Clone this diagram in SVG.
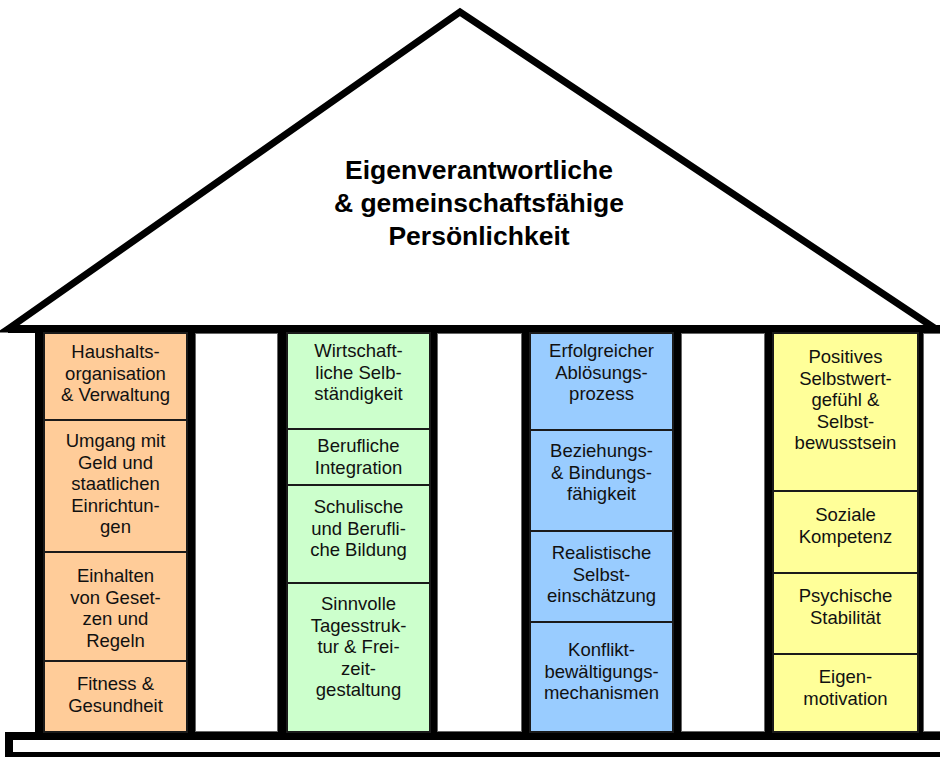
<svg xmlns="http://www.w3.org/2000/svg" width="940" height="757" viewBox="0 0 940 757">
<style>
.t{font-family:"Liberation Sans",Arial,sans-serif;font-size:18.5px;fill:#111;text-anchor:middle}
.title{font-family:"Liberation Sans",Arial,sans-serif;font-size:26.5px;font-weight:bold;fill:#000;text-anchor:middle}
.c1{fill:#FFCC99;stroke:#1a1a1a;stroke-width:2}
.c2{fill:#CCFFCC;stroke:#1a1a1a;stroke-width:2}
.c3{fill:#99CCFF;stroke:#1a1a1a;stroke-width:2}
.c4{fill:#FFFF99;stroke:#1a1a1a;stroke-width:2}
.gap{fill:#fff;stroke:#666;stroke-width:1}
</style>
<rect width="940" height="757" fill="#fff"/>
<g id="roof">
<path d="M8,329 L460,12 L936,329 Z" fill="#fff" stroke="#000" stroke-width="7" stroke-linejoin="miter"/>
<rect x="8" y="325" width="932" height="8" fill="#000"/>
<text class="title" x="479" y="179">Eigenverantwortliche</text>
<text class="title" x="479" y="212">&amp; gemeinschaftsfähige</text>
<text class="title" x="479" y="245">Persönlichkeit</text>
</g>
<g id="frame">
<rect x="35" y="325" width="888" height="415" fill="#000"/>
<rect class="gap" x="195.5" y="333.5" width="82" height="398"/>
<rect class="gap" x="437.5" y="333.5" width="84" height="398"/>
<rect class="gap" x="681.5" y="333.5" width="83" height="398"/>
<rect class="gap" x="923.5" y="333.5" width="20" height="398"/>
</g>
<g id="base">
<rect x="5" y="732" width="940" height="25" fill="#000"/>
<rect x="13" y="740" width="932" height="12" fill="#fff"/>
</g>
<g id="connectors"></g>
<g id="haushalt"><rect class="c1" x="44" y="333" width="143" height="87"/><text class="t" x="115.5" y="358"><tspan x="115.5">Haushalts-</tspan><tspan x="115.5" dy="21.5">organisation</tspan><tspan x="115.5" dy="21.5">&amp; Verwaltung</tspan></text></g>
<g id="geld"><rect class="c1" x="44" y="420" width="143" height="132"/><text class="t" x="115.5" y="447"><tspan x="115.5">Umgang mit</tspan><tspan x="115.5" dy="21.5">Geld und</tspan><tspan x="115.5" dy="21.5">staatlichen</tspan><tspan x="115.5" dy="21.5">Einrichtun-</tspan><tspan x="115.5" dy="21.5">gen</tspan></text></g>
<g id="gesetze"><rect class="c1" x="44" y="552" width="143" height="109"/><text class="t" x="115.5" y="582"><tspan x="115.5">Einhalten</tspan><tspan x="115.5" dy="21.5">von Geset-</tspan><tspan x="115.5" dy="21.5">zen und</tspan><tspan x="115.5" dy="21.5">Regeln</tspan></text></g>
<g id="fitness"><rect class="c1" x="44" y="661" width="143" height="71"/><text class="t" x="115.5" y="690"><tspan x="115.5">Fitness &amp;</tspan><tspan x="115.5" dy="21.5">Gesundheit</tspan></text></g>
<g id="wirtschaft"><rect class="c2" x="287" y="333" width="143" height="96"/><text class="t" x="358.5" y="357"><tspan x="358.5">Wirtschaft-</tspan><tspan x="358.5" dy="21.5">liche Selb-</tspan><tspan x="358.5" dy="21.5">ständigkeit</tspan></text></g>
<g id="beruf"><rect class="c2" x="287" y="429" width="143" height="56"/><text class="t" x="358.5" y="452"><tspan x="358.5">Berufliche</tspan><tspan x="358.5" dy="21.5">Integration</tspan></text></g>
<g id="bildung"><rect class="c2" x="287" y="485" width="143" height="98"/><text class="t" x="358.5" y="513"><tspan x="358.5">Schulische</tspan><tspan x="358.5" dy="21.5">und Berufli-</tspan><tspan x="358.5" dy="21.5">che Bildung</tspan></text></g>
<g id="tagesstruktur"><rect class="c2" x="287" y="583" width="143" height="149"/><text class="t" x="358.5" y="610"><tspan x="358.5">Sinnvolle</tspan><tspan x="358.5" dy="21.5">Tagesstruk-</tspan><tspan x="358.5" dy="21.5">tur &amp; Frei-</tspan><tspan x="358.5" dy="21.5">zeit-</tspan><tspan x="358.5" dy="21.5">gestaltung</tspan></text></g>
<g id="abloesung"><rect class="c3" x="530" y="333" width="143" height="97"/><text class="t" x="601.5" y="357"><tspan x="601.5">Erfolgreicher</tspan><tspan x="601.5" dy="21.5">Ablösungs-</tspan><tspan x="601.5" dy="21.5">prozess</tspan></text></g>
<g id="beziehung"><rect class="c3" x="530" y="430" width="143" height="101"/><text class="t" x="601.5" y="457"><tspan x="601.5">Beziehungs-</tspan><tspan x="601.5" dy="21.5">&amp; Bindungs-</tspan><tspan x="601.5" dy="21.5">fähigkeit</tspan></text></g>
<g id="selbsteinschaetzung"><rect class="c3" x="530" y="531" width="143" height="91"/><text class="t" x="601.5" y="559"><tspan x="601.5">Realistische</tspan><tspan x="601.5" dy="21.5">Selbst-</tspan><tspan x="601.5" dy="21.5">einschätzung</tspan></text></g>
<g id="konflikt"><rect class="c3" x="530" y="622" width="143" height="110"/><text class="t" x="601.5" y="656"><tspan x="601.5">Konflikt-</tspan><tspan x="601.5" dy="21.5">bewältigungs-</tspan><tspan x="601.5" dy="21.5">mechanismen</tspan></text></g>
<g id="selbstwert"><rect class="c4" x="773" y="333" width="145" height="158"/><text class="t" x="845.5" y="363"><tspan x="845.5">Positives</tspan><tspan x="845.5" dy="21.5">Selbstwert-</tspan><tspan x="845.5" dy="21.5">gefühl &amp;</tspan><tspan x="845.5" dy="21.5">Selbst-</tspan><tspan x="845.5" dy="21.5">bewusstsein</tspan></text></g>
<g id="sozial"><rect class="c4" x="773" y="491" width="145" height="82"/><text class="t" x="845.5" y="521"><tspan x="845.5">Soziale</tspan><tspan x="845.5" dy="21.5">Kompetenz</tspan></text></g>
<g id="psychisch"><rect class="c4" x="773" y="573" width="145" height="81"/><text class="t" x="845.5" y="602"><tspan x="845.5">Psychische</tspan><tspan x="845.5" dy="21.5">Stabilität</tspan></text></g>
<g id="motivation"><rect class="c4" x="773" y="654" width="145" height="78"/><text class="t" x="845.5" y="683"><tspan x="845.5">Eigen-</tspan><tspan x="845.5" dy="21.5">motivation</tspan></text></g>
</svg>
